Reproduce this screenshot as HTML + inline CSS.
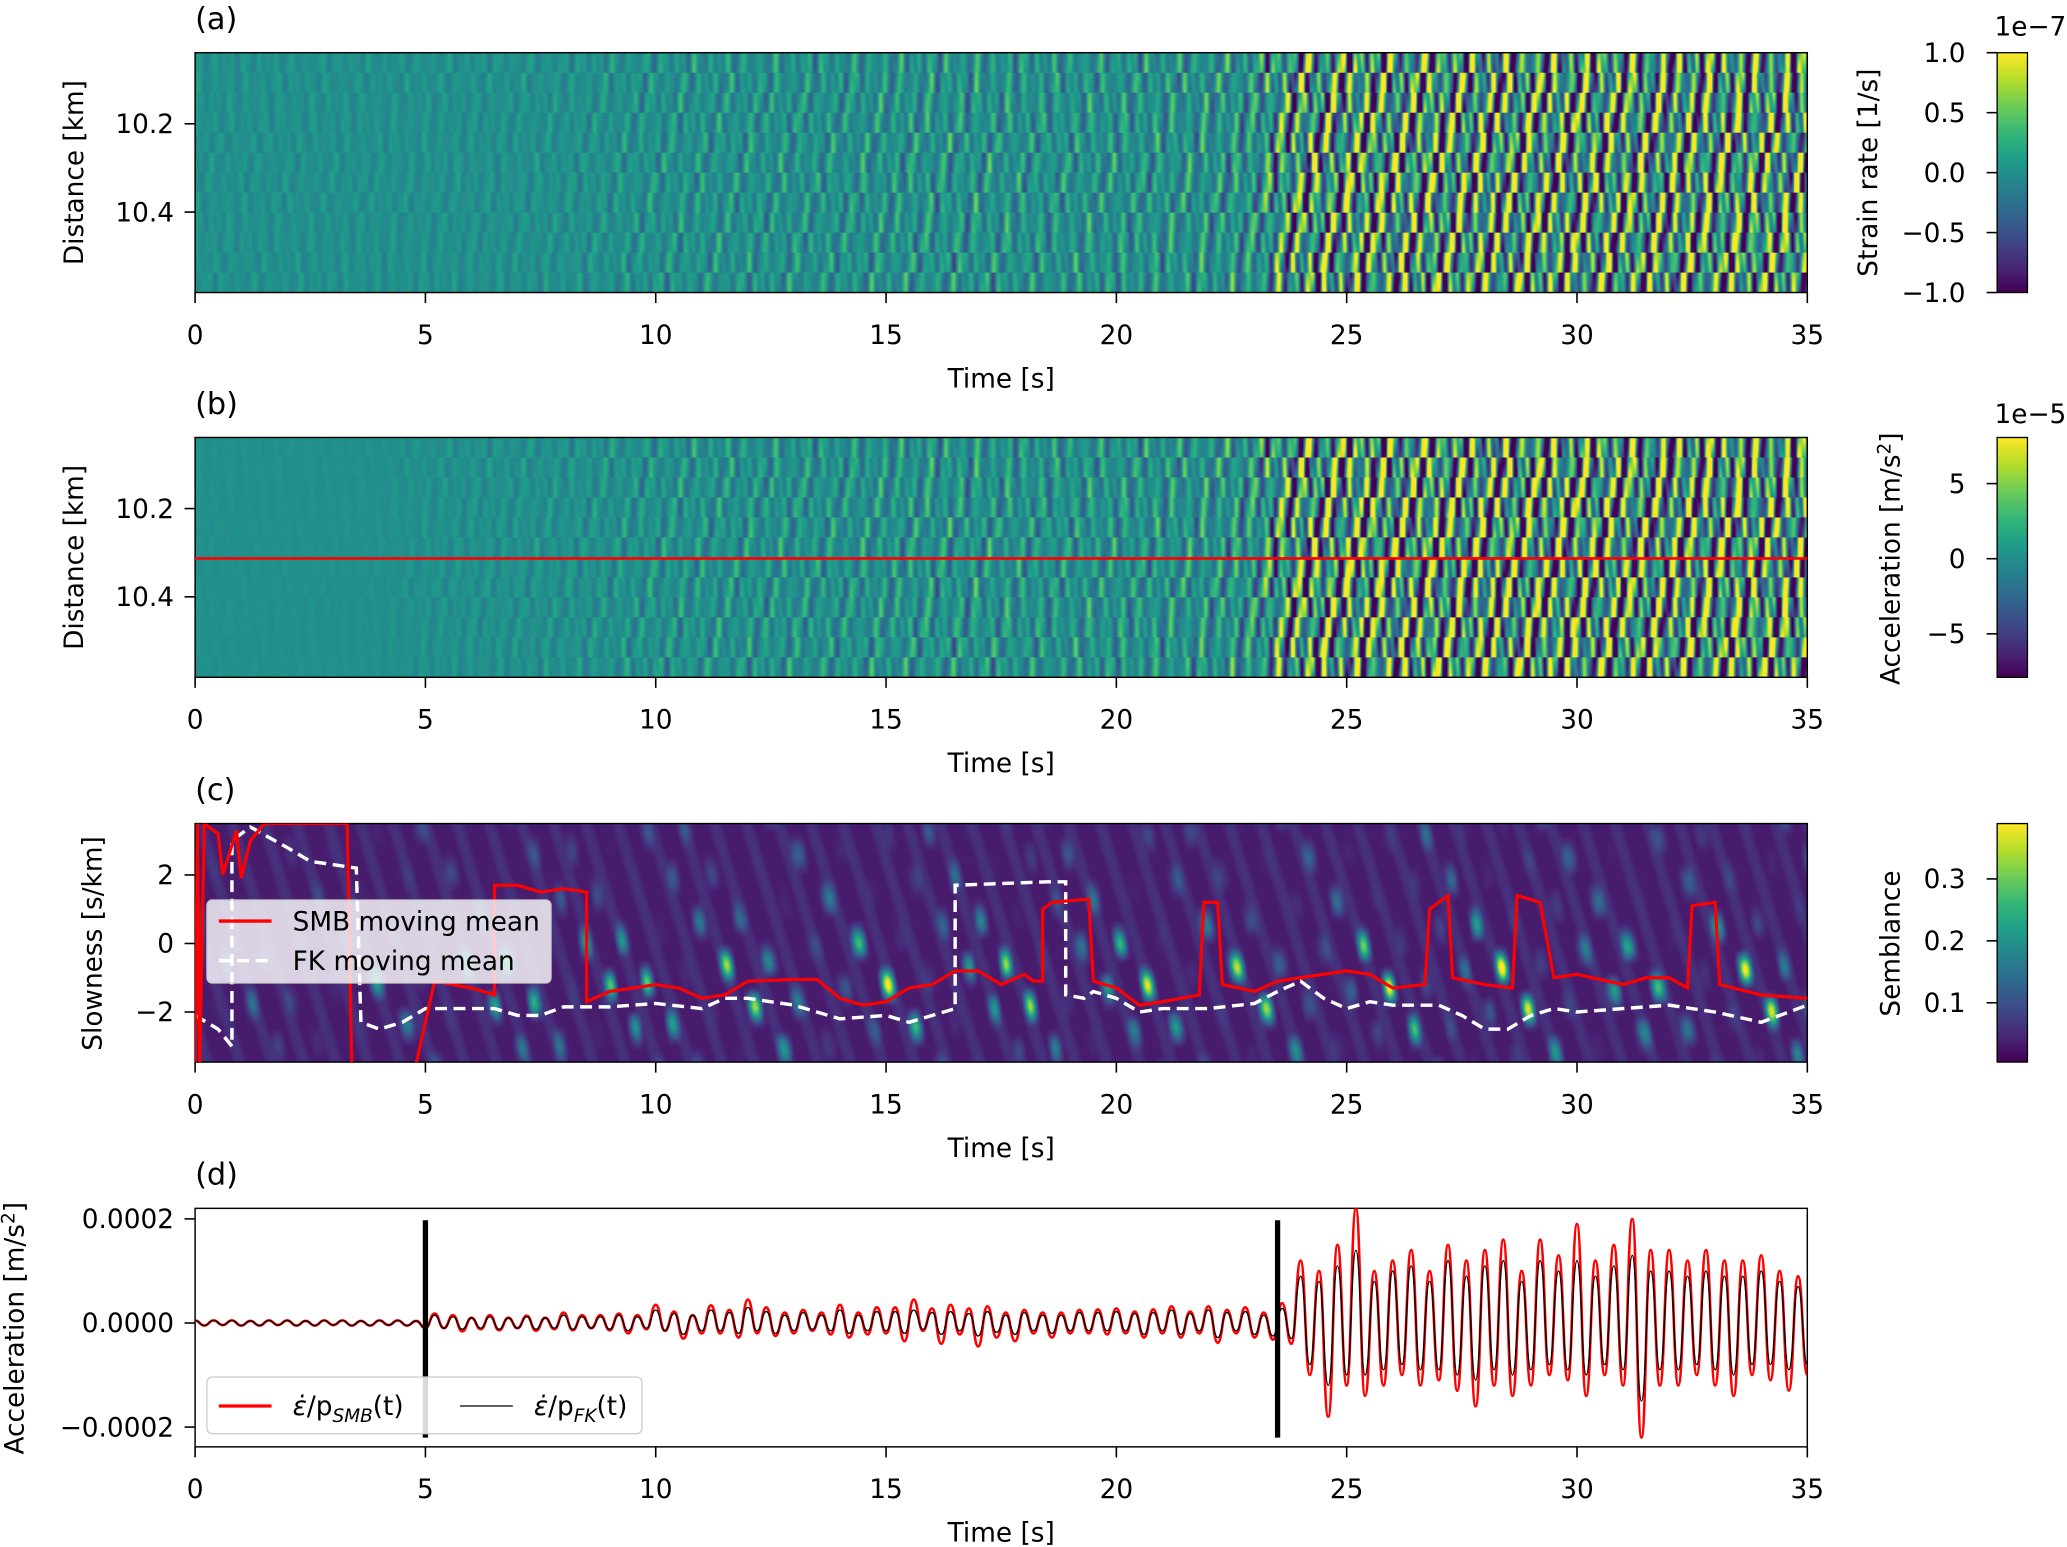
<!DOCTYPE html>
<html><head><meta charset="utf-8">
<style>
html,body{margin:0;padding:0;background:#fff;}
#root{position:relative;width:2067px;height:1547px;overflow:hidden;}
#stage{position:absolute;left:0;top:0;width:1568px;height:1174px;transform-origin:0 0;transform:scale(1.31824,1.31772);}
canvas{position:absolute;}
svg{position:absolute;left:0;top:0;}
text{font-family:"DejaVu Sans","Liberation Sans",sans-serif;fill:#000;}
</style></head><body>
<div id="root">
<div id="stage">
<canvas id="hmA" style="left:148px;top:40px;width:1223px;height:182px"></canvas>
<canvas id="hmB" style="left:148px;top:332px;width:1223px;height:182px"></canvas>
<canvas id="hmC" style="left:148px;top:625px;width:1223px;height:181px"></canvas>
<canvas id="cbA" style="left:1515px;top:40px;width:23px;height:182px"></canvas>
<canvas id="cbB" style="left:1515px;top:332px;width:23px;height:182px"></canvas>
<canvas id="cbC" style="left:1515px;top:625px;width:23px;height:181px"></canvas>
<svg id="ov" width="1568" height="1174" viewBox="0 0 1568 1174"></svg>
</div></div>
<script>
// ---------- data ----------
const xTicks=[0,5,10,15,20,25,30,35];
const distTicks=[10.2,10.4];
const slowTicks=[2,0,-2];
const accTicks=[0.0002,0.0000,-0.0002];
const accTickLabels=["0.0002","0.0000","\u22120.0002"];
const cbATicks=[1.0,0.5,0.0,-0.5,-1.0];
const cbATickLabels=["1.0","0.5","0.0","\u22120.5","\u22121.0"];
const cbBTicks=[5,0,-5];
const cbBTickLabels=["5","0","\u22125"];
const cbCTicks=[0.3,0.2,0.1];
const cbCTickLabels=["0.3","0.2","0.1"];
// amplitude envelope per second (0..35) of heatmaps
const envA=[0.12,0.12,0.12,0.12,0.12,0.13,0.14,0.15,0.17,0.22,0.3,0.32,0.34,0.35,0.36,0.4,0.45,0.45,0.4,0.4,0.42,0.45,0.5,0.6,1.4,1.5,1.5,1.5,1.5,1.5,1.5,1.5,1.5,1.5,1.5,1.5];
const envB=[0.03,0.03,0.03,0.03,0.04,0.1,0.13,0.15,0.17,0.22,0.3,0.32,0.35,0.36,0.36,0.4,0.45,0.45,0.4,0.4,0.42,0.45,0.5,0.65,1.5,1.6,1.6,1.6,1.6,1.6,1.6,1.6,1.6,1.6,1.6,1.6];
const envC=[0.3,0.3,0.3,0.3,0.4,0.6,0.8,0.9,0.9,0.9,1,1,1,1,0.9,0.9,1,1,0.9,0.9,1,1,0.9,0.9,0.9,0.9,0.9,1,1,1,1,0.9,0.9,1,1,1];
const redLineDist=10.313;
// panel (c) moving means
const fkT=[0,0.5,0.8,0.8,1.2,2,2.5,3.5,3.6,4,4.5,5,6,6.5,7,7.5,8,9,10,11,11.5,12,13,14,15,15.5,16.5,16.5,17.5,18.5,18.9,18.9,19.3,19.5,20,20.5,21,22,23,23.5,24,24.5,25,25.5,26,27,27.5,28,28.5,29,29.5,30,31,32,33,34,35];
const fkV=[-2.1,-2.5,-3,3,3.4,2.8,2.4,2.2,-2.3,-2.5,-2.3,-1.9,-1.9,-1.9,-2.1,-2.1,-1.85,-1.85,-1.75,-1.9,-1.6,-1.6,-1.8,-2.2,-2.1,-2.3,-1.9,1.7,1.75,1.8,1.8,-1.5,-1.6,-1.4,-1.6,-2.0,-1.9,-1.9,-1.75,-1.4,-1.1,-1.6,-1.9,-1.7,-1.8,-1.8,-2.1,-2.5,-2.5,-2.1,-1.9,-2.0,-1.9,-1.8,-2.0,-2.3,-1.8];
const smbT=[0,0.05,0.1,0.2,0.5,0.6,0.9,1.0,1.2,1.5,3.3,3.4,null,4.8,5.2,6,6.5,6.5,7,7.5,8,8.5,8.5,9,9.5,10,10.5,11,11.5,12,13,13.5,14,14.5,15,15.5,16,16.5,17,17.5,18,18.2,18.4,18.4,18.6,19.4,19.5,20,20.5,21,21.8,21.9,22.2,22.3,23,23.5,24,25,25.5,26,26.7,26.8,27.2,27.3,28,28.6,28.7,29.2,29.5,30,31,31.5,32,32.4,32.5,33,33.1,34,35];
const smbV=[-3.5,3.5,-3.5,3.5,3.2,2,3.3,1.9,3.0,3.5,3.5,-3.5,null,-3.5,-1.1,-1.3,-1.5,1.7,1.7,1.5,1.6,1.5,-1.7,-1.4,-1.3,-1.2,-1.3,-1.6,-1.5,-1.1,-1.05,-1.05,-1.6,-1.8,-1.7,-1.3,-1.2,-0.8,-0.8,-1.2,-0.9,-1.1,-1.1,1.0,1.2,1.3,-1.1,-1.3,-1.8,-1.7,-1.5,1.2,1.2,-1.2,-1.4,-1.1,-1.0,-0.8,-0.9,-1.3,-1.2,1.0,1.4,-1.0,-1.2,-1.3,1.4,1.2,-1.0,-0.9,-1.2,-1.0,-1.0,-1.3,1.1,1.2,-1.2,-1.5,-1.6];
// panel (d) waveform extrema, every 0.2 s, units 1e-6 m/s^2
const redWave=[5,-5,5,-4,5,-5,4,-5,5,-4,5,-5,4,-5,5,-4,5,-5,4,-5,5,-4,5,-5,4,
-10,18,-10,15,-16,10,-12,15,-14,10,-10,14,-15,10,-12,20,-14,15,-10,15,-14,18,-20,15,-12,
35,-15,22,-30,15,-20,34,-20,25,-28,45,-20,30,-25,20,-20,25,-15,20,-22,35,-28,20,-22,30,
-20,30,-35,45,-15,28,-40,35,-22,28,-45,32,-28,20,-35,25,-20,20,-28,20,-20,25,-20,26,-22,
28,-20,22,-28,26,-20,32,-28,22,-20,32,-38,25,-20,30,-28,20,-32,38,-40,120,-100,100,-180,150,
-120,220,-140,100,-120,120,-100,140,-120,100,-110,150,-130,120,-160,140,-120,160,-140,100,-120,160,-100,130,-110,
190,-140,120,-100,150,-120,200,-220,140,-120,140,-120,120,-100,140,-120,120,-140,120,-100,130,-110,100,-130,90,-100];
const blackWave=[5,-5,5,-4,5,-5,4,-5,5,-4,5,-5,4,-5,5,-4,5,-5,4,-5,5,-4,5,-5,4,
-10,15,-10,12,-12,10,-10,12,-12,10,-10,12,-12,10,-10,15,-12,12,-10,12,-12,15,-15,12,-10,
25,-15,18,-22,15,-15,25,-15,20,-20,30,-15,22,-20,15,-15,20,-12,15,-15,25,-20,15,-15,22,
-15,22,-20,25,-12,20,-22,22,-15,18,-25,22,-18,15,-22,20,-15,15,-20,15,-15,20,-15,20,-15,
22,-15,18,-22,20,-15,25,-22,18,-15,25,-28,20,-15,22,-22,15,-25,28,-30,90,-80,80,-120,110,
-100,140,-100,80,-90,100,-80,110,-90,80,-90,120,-100,90,-110,110,-90,120,-100,80,-90,120,-80,100,-90,
120,-100,90,-80,110,-90,130,-150,100,-90,100,-90,90,-80,100,-90,90,-100,90,-80,100,-80,80,-90,70,-80];
const waveStep=0.2;
const pickTimes=[5,23.5];

// ---------- helpers ----------
const X=t=>148+t*(1223/35);
const yDistA=d=>40+(d-10.039)*335;
const yDistB=d=>332+(d-10.039)*335;
const ySlow=s=>716-s*26;
const yAcc=a=>1004-a*1e4*39.5;
const vir=[[68,1,84],[72,40,120],[62,74,137],[49,104,142],[38,130,142],[31,158,137],[53,183,121],[109,205,89],[180,222,44],[253,231,37]];
function cmap(v){v=Math.max(0,Math.min(1,v));const p=v*9,i=Math.min(8,Math.floor(p)),f=p-i;const a=vir[i],b=vir[i+1];return [a[0]+(b[0]-a[0])*f,a[1]+(b[1]-a[1])*f,a[2]+(b[2]-a[2])*f];}
function envAt(arr,t){const i=Math.min(34,Math.floor(t)),f=t-i;return arr[i]*(1-f)+arr[i+1]*f;}
const S=1.3182;
function prep(id,w,h){const c=document.getElementById(id);c.width=Math.round(w*S);c.height=Math.round(h*S);return c;}
function drawWaveHM(id,env){
  const c=prep(id,1223,182),ctx=c.getContext('2d'),W=c.width,H=c.height,img=ctx.createImageData(W,H);
  for(let y=0;y<H;y++){const d=y/H;const band=Math.floor(d*12);const off=2.3*band+2*Math.sin(band*1.7);
    for(let x=0;x<W;x++){const t=x/W*35;const e=envAt(env,t);
      const v=e*(Math.sin(2*Math.PI*(2.9*t+0.9*d+0.3*Math.sin(0.37*t+band))+off)*(0.6+0.4*Math.sin(7.1*t+band))+0.4*Math.sin(2*Math.PI*(5.3*t-1.3*d)+band*0.7)*Math.sin(1.3*t+2.1*band));
      const col=cmap(0.5+v/2);const k=(y*W+x)*4;img.data[k]=col[0];img.data[k+1]=col[1];img.data[k+2]=col[2];img.data[k+3]=255;}}
  ctx.putImageData(img,0,0);}
drawWaveHM('hmA',envA);drawWaveHM('hmB',envB);
(function(){const c=prep('hmC',1223,181),ctx=c.getContext('2d'),W=c.width,H=c.height,img=ctx.createImageData(W,H);
  for(let y=0;y<H;y++){const s=3.5-7*y/H;
    for(let x=0;x<W;x++){const t=x/W*35;const e=envAt(envC,t);
      const g=Math.exp(-Math.pow((s+1.2)/1.6,2))+0.3;
      let b=Math.sin(2*Math.PI*(1.1*t+0.12*s)+Math.sin(0.7*t))*Math.sin(2*Math.PI*(0.35*s-0.2*t)+t*0.7)*(0.6+0.4*Math.sin(2.3*t+s));b=Math.max(0,b);
      const v=0.03+0.32*e*g*b*b+0.025*Math.max(0,Math.sin(9*t+2*s));
      const col=cmap(v/0.39);const k=(y*W+x)*4;img.data[k]=col[0];img.data[k+1]=col[1];img.data[k+2]=col[2];img.data[k+3]=255;}}
  ctx.putImageData(img,0,0);})();
function drawCB(id,h){const c=prep(id,23,h),ctx=c.getContext('2d');for(let y=0;y<c.height;y++){const col=cmap(1-y/c.height);ctx.fillStyle=`rgb(${col[0]|0},${col[1]|0},${col[2]|0})`;ctx.fillRect(0,y,c.width,1);}}
drawCB('cbA',182);drawCB('cbB',182);drawCB('cbC',181);

// ---------- svg ----------
const svg=document.getElementById('ov'),NS='http://www.w3.org/2000/svg';
function el(tag,attrs,parent){const e=document.createElementNS(NS,tag);for(const k in attrs)e.setAttribute(k,attrs[k]);(parent||svg).appendChild(e);return e;}
function txt(s,x,y,attrs,name){const e=el('text',Object.assign({x:x,y:y,'font-size':20},attrs||{}));e.textContent=s;
  
  
  return e;}
const panels=[{top:40,bot:222,lab:'(a)'},{top:332,bot:514,lab:'(b)'},{top:625,bot:806,lab:'(c)'},{top:917,bot:1098,lab:'(d)'}];
panels.forEach((p,pi)=>{
  const fr=el('rect',{x:148,y:p.top,width:1223,height:p.bot-p.top,fill:'none',stroke:'#000','stroke-width':1.1});
  
  
  xTicks.forEach(t=>{const tk=el('line',{x1:X(t),x2:X(t),y1:p.bot,y2:p.bot+8,stroke:'#000','stroke-width':1.2});
    
    
    txt(String(t),X(t),p.bot+39,{'text-anchor':'middle'},'x-tick-label');});
  txt('Time [s]',X(17.5),p.bot+72,{'text-anchor':'middle','font-size':20},'x-axis-title');
  txt(p.lab,148,p.top-18,{'font-size':23},'panel-label');
});
function yTicks(vals,labels,fy,name){vals.forEach((v,i)=>{const y=fy(v);const tk=el('line',{x1:140,x2:148,y1:y,y2:y,stroke:'#000','stroke-width':1.2});
  
  
  txt(labels[i],132,y+7,{'text-anchor':'end'},name+'-tick-label');});}
yTicks(distTicks,distTicks.map(String),yDistA,'distance-a');
yTicks(distTicks,distTicks.map(String),yDistB,'distance-b');
yTicks(slowTicks,slowTicks.map(v=>v<0?'\u2212'+(-v):String(v)),ySlow,'slowness');
yTicks(accTicks,accTickLabels,yAcc,'acceleration');
txt('Distance [km]',63,131,{'text-anchor':'middle','font-size':20,transform:'rotate(-90 63 131)'},'y-axis-title-a');
txt('Distance [km]',63,423,{'text-anchor':'middle','font-size':20,transform:'rotate(-90 63 423)'},'y-axis-title-b');
txt('Slowness [s/km]',77,716,{'text-anchor':'middle','font-size':20,transform:'rotate(-90 77 716)'},'y-axis-title-c');
const ya=txt('Acceleration [m/s',18,1008,{'text-anchor':'middle','font-size':20,transform:'rotate(-90 18 1008)'},'y-axis-title-d');
const sup=el('tspan',{'font-size':14,dy:-7},ya);sup.textContent='2';const cl=el('tspan',{dy:7},ya);cl.textContent=']';
// red line in (b)
const rl=el('line',{x1:148,x2:1371,y1:yDistB(redLineDist),y2:yDistB(redLineDist),stroke:'#ff0000','stroke-width':2});


// colorbars
function cbAxis(top,bot,vals,labels,fy,name){
  const fr=el('rect',{x:1515,y:top,width:23,height:bot-top,fill:'none',stroke:'#000','stroke-width':1});
  
  
  vals.forEach((v,i)=>{const y=fy(v);const tk=el('line',{x1:1507,x2:1515,y1:y,y2:y,stroke:'#000','stroke-width':1.2});
    
    
    txt(labels[i],1491,y+7,{'text-anchor':'end'},name+'-tick-label');});}
cbAxis(40,222,cbATicks,cbATickLabels,v=>131-v*91,'colorbar-strain');
txt('1e\u22127',1513,27,{},'colorbar-strain-exponent');
txt('Strain rate [1/s]',1424,131,{'text-anchor':'middle','font-size':20,transform:'rotate(-90 1424 131)'},'colorbar-strain-title');
cbAxis(332,514,cbBTicks,cbBTickLabels,v=>424-v*11.4,'colorbar-acceleration');
txt('1e\u22125',1513,321,{},'colorbar-acceleration-exponent');
const ct=txt('Acceleration [m/s',1441,424,{'text-anchor':'middle','font-size':20,transform:'rotate(-90 1441 424)'},'colorbar-acceleration-title');
const s2=el('tspan',{'font-size':14,dy:-7},ct);s2.textContent='2';const c2=el('tspan',{dy:7},ct);c2.textContent=']';
cbAxis(625,806,cbCTicks,cbCTickLabels,v=>808-v*470,'colorbar-semblance');
txt('Semblance',1441,716,{'text-anchor':'middle','font-size':20,transform:'rotate(-90 1441 716)'},'colorbar-semblance-title');
// panel c lines (clipped)
const cp=el('clipPath',{id:'clipC'});el('rect',{x:148,y:625,width:1223,height:181},cp);
const cpd=el('clipPath',{id:'clipD'});el('rect',{x:148,y:917,width:1223,height:181},cpd);
function pathFrom(T,V){let d='',pen=false;for(let i=0;i<T.length;i++){if(T[i]===null){pen=false;continue;}d+=(pen?'L':'M')+X(T[i]).toFixed(2)+' '+ySlow(V[i]).toFixed(2)+' ';pen=true;}return d;}
const fk=el('path',{d:pathFrom(fkT,fkV),fill:'none',stroke:'#fff','stroke-width':2.6,'stroke-dasharray':'9 5','clip-path':'url(#clipC)'});


const smb=el('path',{d:pathFrom(smbT,smbV),fill:'none',stroke:'#ff0000','stroke-width':2.4,'clip-path':'url(#clipC)'});


// legend c
const lg=el('g',{});
el('rect',{x:157,y:683,width:261,height:63,rx:4,fill:'rgba(255,255,255,0.8)',stroke:'#ccc'},lg);
el('line',{x1:166,x2:206,y1:699,y2:699,stroke:'#f00','stroke-width':2.6},lg);
el('line',{x1:166,x2:206,y1:729,y2:729,stroke:'#fff','stroke-width':2.6,'stroke-dasharray':'9 5'},lg);
const l1=txt('SMB moving mean',222,706,{'font-size':20},'legend-entry-smb');lg.appendChild(l1);
const l2=txt('FK moving mean',222,736,{'font-size':20},'legend-entry-fk');lg.appendChild(l2);
// panel d waveforms
function wavePath(arr){let pts=arr.map((v,i)=>[X(i*waveStep),yAcc(v*1e-6)]);let d='M'+pts[0][0]+' '+pts[0][1];
  for(let i=0;i<pts.length-1;i++){const a=pts[i],b=pts[i+1],m=(a[0]+b[0])/2;d+=` C${m.toFixed(2)} ${a[1].toFixed(2)} ${m.toFixed(2)} ${b[1].toFixed(2)} ${b[0].toFixed(2)} ${b[1].toFixed(2)}`;}return d;}
const rw=el('path',{d:wavePath(redWave),fill:'none',stroke:'#ff0000','stroke-width':2,'clip-path':'url(#clipD)'});


const bw=el('path',{d:wavePath(blackWave),fill:'none',stroke:'#000','stroke-width':1,'clip-path':'url(#clipD)'});


pickTimes.forEach(t=>{const pk=el('line',{x1:X(t),x2:X(t),y1:926,y2:1091,stroke:'#000','stroke-width':4});
  
  });
const lgd=el('g',{});
el('rect',{x:157,y:1045,width:330,height:43,rx:4,fill:'rgba(255,255,255,0.85)',stroke:'#ccc'},lgd);
el('line',{x1:166,x2:206,y1:1067,y2:1067,stroke:'#f00','stroke-width':2.4},lgd);
el('line',{x1:349,x2:389,y1:1067,y2:1067,stroke:'#000','stroke-width':1},lgd);
function legTxt(x,sub,name){const t=txt('',x,1074,{'font-size':20},name);lgd.appendChild(t);
  const a=el('tspan',{'font-style':'italic'},t);a.textContent='\u03B5\u0307';
  const b=el('tspan',{},t);b.textContent='/p';
  const c=el('tspan',{'font-size':14,dy:5,'font-style':'italic'},t);c.textContent=sub;
  const d=el('tspan',{dy:-5},t);d.textContent='(t)';}
legTxt(222,'SMB','legend-entry-smb-trace');legTxt(405,'FK','legend-entry-fk-trace');
</script>
</body></html>
